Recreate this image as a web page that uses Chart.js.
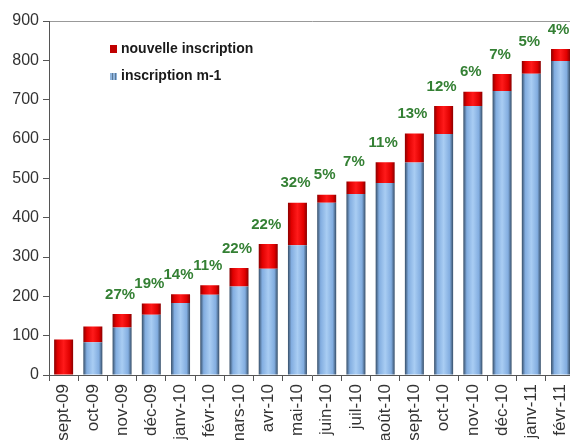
<!DOCTYPE html>
<html>
<head>
<meta charset="utf-8">
<script src="https://cdn.jsdelivr.net/npm/chart.js@4"></script>
<style>
  html, body { margin: 0; padding: 0; background: #fff; overflow: hidden; }
  #c { display: block; }
</style>
</head>
<body>
<canvas id="c" width="584" height="440" style="width:584px;height:440px"></canvas>
<script>
// months, stock of the previous month (blue) and new ones (red)
var months = ['sept-09','oct-09','nov-09','déc-09','janv-10','févr-10','mars-10','avr-10','mai-10','juin-10',
  'juil-10','août-10','sept-10','oct-10','nov-10','déc-10','janv-11','févr-11'];
var inscriptionM1 = [0, 83, 121, 153, 183, 204, 225, 270, 330, 438, 460, 488, 540, 613, 684, 722, 766, 798];
var nouvelles = [90, 40, 34, 29, 22, 24, 47, 63, 108, 20, 32, 53, 74, 71, 36, 43, 32, 31];
var croissance = [null, null, 27, 19, 14, 11, 22, 22, 32, 5, 7, 11, 13, 12, 6, 7, 5, 4];
var yTicks = [0, 100, 200, 300, 400, 500, 600, 700, 800, 900];

var FONT = "'Liberation Sans', Arial, sans-serif";
var BAR_PCT = 0.65;

function cylinder(dark, mid, light) {
  return function(ctx) {
    var xs = ctx.chart.scales.x;
    if (ctx.type !== 'data' || !xs) return mid;
    var cx = xs.getPixelForValue(ctx.dataIndex);
    var w = xs.width / months.length * BAR_PCT;
    if (!isFinite(cx) || !isFinite(w) || w <= 0) return mid;
    var g = ctx.chart.ctx.createLinearGradient(cx - w / 2, 0, cx + w / 2, 0);
    g.addColorStop(0, dark);
    g.addColorStop(0.18, mid);
    g.addColorStop(0.5, light);
    g.addColorStop(0.82, mid);
    g.addColorStop(1, dark);
    return g;
  };
}

// green growth labels above each bar
var pctLabels = {
  id: 'pctLabels',
  afterDatasetsDraw: function(chart) {
    var c = chart.ctx;
    var meta = chart.getDatasetMeta(1);
    c.save();
    c.font = 'bold 15px ' + FONT;
    c.fillStyle = '#348034';
    c.textAlign = 'center';
    c.textBaseline = 'bottom';
    meta.data.forEach(function(el, i) {
      if (croissance[i] == null) return;
      c.fillText(croissance[i] + '%', el.x - 2, el.y - 12);
    });
    c.restore();
  }
};

// legend sitting inside the plot, top left
var boxLegend = {
  id: 'boxLegend',
  afterDraw: function(chart) {
    var c = chart.ctx;
    c.save();
    c.font = 'bold 14px ' + FONT;
    c.textBaseline = 'middle';
    c.fillStyle = '#c00000';
    c.fillRect(110, 45, 7, 8);
    c.fillStyle = '#8fb4dc';
    c.fillRect(110, 73, 7, 7);
    c.fillStyle = '#5a7896';
    c.fillRect(112, 73, 1, 7);
    c.fillRect(115, 73, 1, 7);
    c.fillStyle = '#1a1a1a';
    c.fillText('nouvelle inscription', 121, 49);
    c.fillText('inscription m-1', 121, 76);
    c.restore();
  }
};

new Chart(document.getElementById('c'), {
  type: 'bar',
  data: {
    labels: months,
    datasets: [
      {
        label: 'inscription m-1',
        data: inscriptionM1,
        backgroundColor: cylinder('#364e68', '#82ade0', '#a9cdf3'),
        borderWidth: 0
      },
      {
        label: 'nouvelle inscription',
        data: nouvelles,
        backgroundColor: cylinder('#8a0000', '#e00000', '#ff1a1a'),
        borderWidth: 0
      }
    ]
  },
  options: {
    responsive: false,
    animation: false,
    devicePixelRatio: 1,
    layout: { padding: { top: 21, right: 2, left: 0, bottom: 0 } },
    datasets: { bar: { categoryPercentage: 1, barPercentage: BAR_PCT } },
    plugins: { legend: { display: false }, tooltip: { enabled: false } },
    scales: {
      x: {
        stacked: true,
        afterFit: function(s) { s.height = 65; },
        grid: { offset: true, drawOnChartArea: false, tickLength: 6, color: '#555' },
        border: { color: '#555' },
        ticks: {
          minRotation: 90, maxRotation: 90, autoSkip: false, padding: 3,
          color: '#333', font: { family: FONT, size: 17 }
        }
      },
      y: {
        stacked: true,
        min: 0, max: 900,
        afterFit: function(s) { s.width = 49; },
        afterBuildTicks: function(s) { s.ticks = yTicks.map(function(v) { return { value: v }; }); },
        grid: {
          tickLength: 6,
          tickColor: '#555',
          color: function(ctx) { return ctx.tick && ctx.tick.value === 900 ? '#999' : 'rgba(0,0,0,0)'; }
        },
        border: { color: '#555' },
        ticks: { padding: 4, color: '#333', font: { family: FONT, size: 16 } }
      }
    }
  },
  plugins: [pctLabels, boxLegend]
});
</script>
</body>
</html>
